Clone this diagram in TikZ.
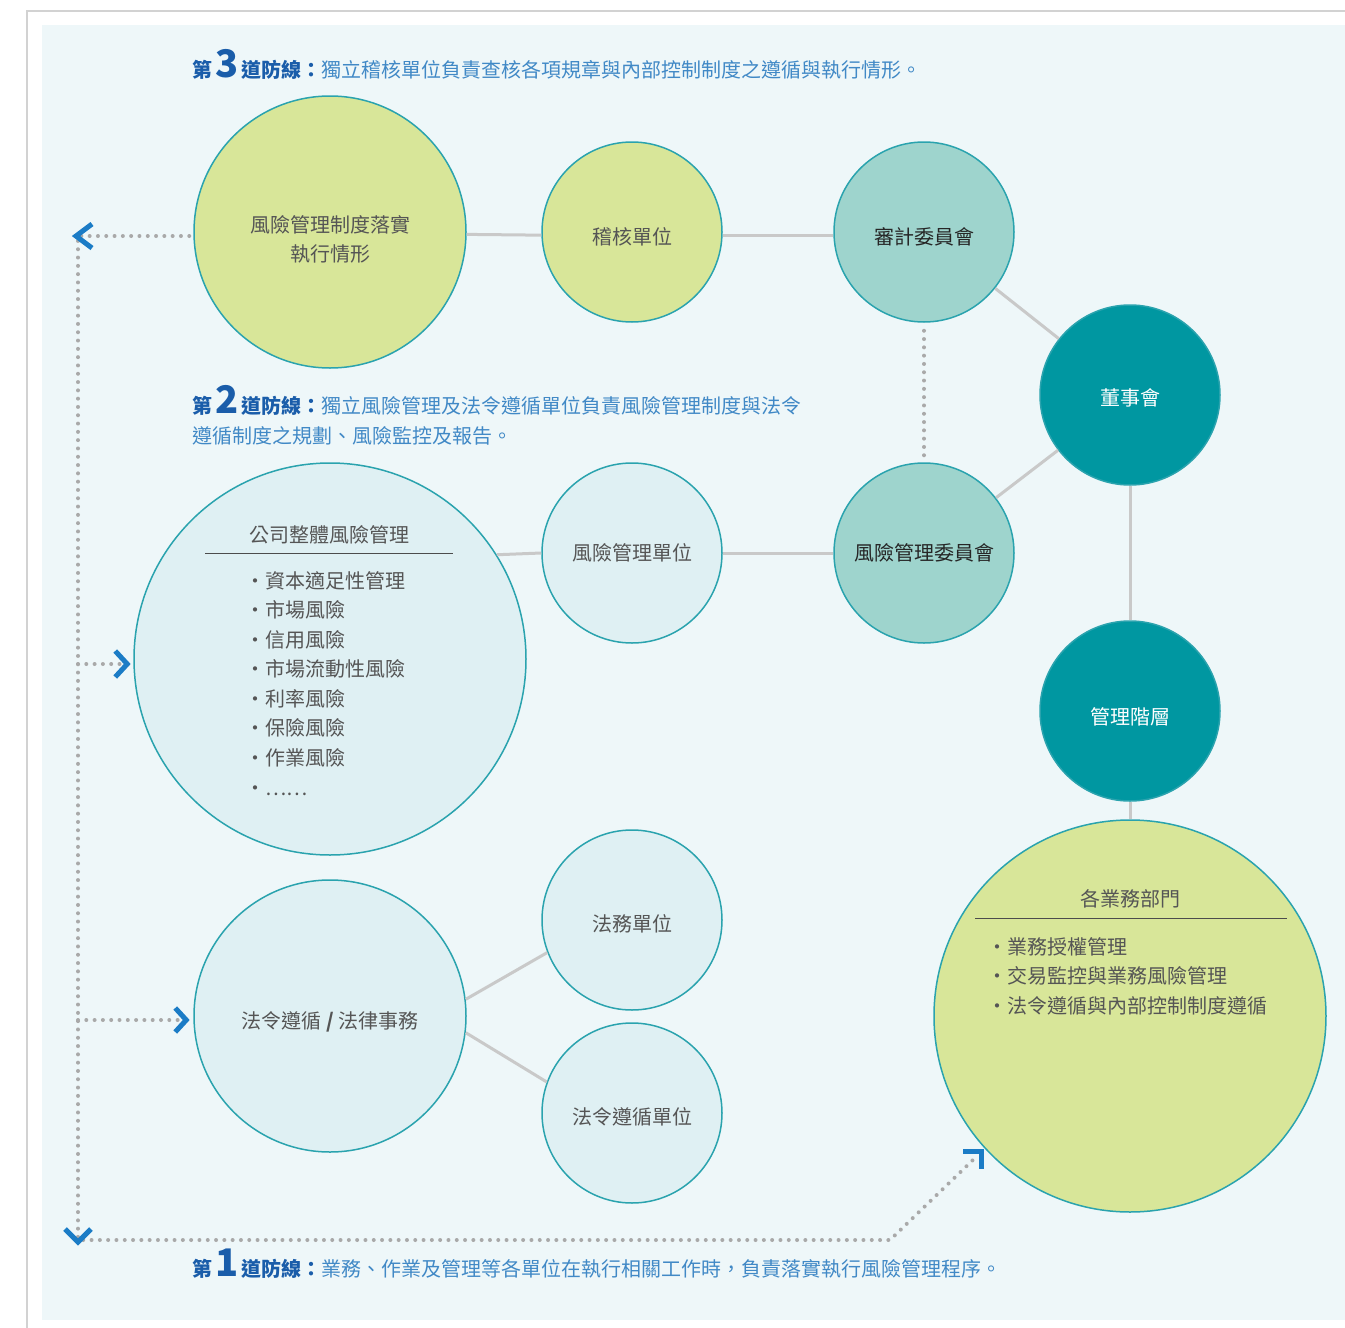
\documentclass[tikz,border=0pt]{standalone}
\usepackage{fontspec}
\setmainfont{Noto Sans CJK TC}
\usetikzlibrary{calc}
\definecolor{PanelBg}{HTML}{EEF7F9}
\definecolor{FrameGray}{HTML}{D2D2D2}
\definecolor{LimeFill}{HTML}{D8E699}
\definecolor{PaleFill}{HTML}{DFF0F3}
\definecolor{MintFill}{HTML}{9ED4CD}
\definecolor{TealFill}{HTML}{0097A1}
\definecolor{RingTeal}{HTML}{2AA3AE}
\definecolor{LinkGray}{HTML}{C9C9C9}
\definecolor{DotGray}{HTML}{A9A9A9}
\definecolor{HeadBlue}{HTML}{1A5DAA}
\definecolor{BodyBlue}{HTML}{4189C6}
\definecolor{ChevBlue}{HTML}{1B7CC6}
\definecolor{CircText}{HTML}{555555}
\tikzset{
  unit/.style={circle, draw=RingTeal, line width=1.5, inner sep=0},
  small/.style={unit, minimum size=180},
  circtext/.style={inner sep=0, align=center, text=CircText, font=\fontsize{20}{29}\selectfont},
  link/.style={draw=LinkGray, line width=3},
  dotline/.style={draw=DotGray, line width=4, line cap=round, dash pattern=on 0pt off 8.3pt},
  chev/.style={draw=ChevBlue, line width=5, line join=miter},
  heading/.style={inner sep=0, text=BodyBlue, font=\fontsize{20}{29}\selectfont},
  listtext/.style={inner sep=0, align=left, text=CircText, font=\fontsize{20}{29.5}\selectfont}
}
\newcommand{\linenum}[1]{{\fontsize{38}{38}\selectfont #1}}

\begin{document}
\begin{tikzpicture}[x=1pt, y=-1pt]
  \useasboundingbox (0,0) rectangle (1345,1328);
  % frame and panel
  \fill[PanelBg] (42,25) rectangle (1345,1320);
  \draw[FrameGray, line width=2] (27,1328) -- (27,11) -- (1345,11);

  % third line of defence
  \node[heading, anchor=base west] (head3) at (192,77)
    {\textbf{\color{HeadBlue}第\hspace{3pt}\linenum{3}\hspace{3pt}道防線：}獨立稽核單位負責查核各項規章與內部控制制度之遵循與執行情形。};
  \node[unit, fill=LimeFill, minimum size=272,
    label={[circtext, yshift=-7]center:風險管理制度落實\\執行情形}] (riskrep) at (330,232) {};
  \node[small, fill=LimeFill, label={[circtext, yshift=-5]center:稽核單位}] (audit) at (632,232) {};
  \node[small, fill=MintFill, label={[circtext, yshift=-5, text=black!85]center:審計委員會}] (auditcom) at (924,232) {};
  \node[small, fill=TealFill, label={[circtext, yshift=-3, text=white]center:董事會}] (board) at (1130,395) {};

  % second line of defence
  \node[heading, anchor=base west] (head2) at (192,413)
    {\textbf{\color{HeadBlue}第\hspace{3pt}\linenum{2}\hspace{3pt}道防線：}獨立風險管理及法令遵循單位負責風險管理制度與法令};
  \node[heading, anchor=base west] (head2b) at (192,443) {遵循制度之規劃、風險監控及報告。};
  \node[unit, fill=PaleFill, minimum size=392] (bigrisk) at (330,659) {};
  \node[circtext] (bigrisktitle) at (329,535) {公司整體風險管理};
  \draw[black!70, line width=1] (205,553) -- (453,553);
  \node[listtext, anchor=north west] (risklist) at (245,571)
    {•資本適足性管理\\•市場風險\\•信用風險\\•市場流動性風險\\•利率風險\\•保險風險\\•作業風險\\[1pt]•……};
  \node[small, fill=PaleFill, label={[circtext]center:風險管理單位}] (riskunit) at (632,553) {};
  \node[small, fill=MintFill, label={[circtext, text=black!85]center:風險管理委員會}] (riskcom) at (924,553) {};
  \node[small, fill=TealFill, label={[circtext, yshift=-6, text=white]center:管理階層}] (mgmt) at (1130,711) {};

  % legal and compliance
  \node[unit, fill=PaleFill, minimum size=272,
    label={[circtext, yshift=-6]center:法令遵循 \textbf{/} 法律事務}] (lawaff) at (330,1016) {};
  \node[small, fill=PaleFill, label={[circtext, yshift=-4]center:法務單位}] (legal) at (632,920) {};
  \node[small, fill=PaleFill, label={[circtext, yshift=-4]center:法令遵循單位}] (comply) at (632,1113) {};

  % first line of defence
  \node[unit, fill=LimeFill, minimum size=392] (bizdept) at (1130,1016) {};
  \node[circtext] (biztitle) at (1130,899) {各業務部門};
  \draw[black!70, line width=1] (975,918) -- (1287,918);
  \node[listtext, anchor=north west] (bizlist) at (987,937)
    {•業務授權管理\\•交易監控與業務風險管理\\•法令遵循與內部控制制度遵循};
  \node[heading, anchor=base west] (head1) at (192,1276)
    {\textbf{\color{HeadBlue}第\hspace{3pt}\linenum{1}\hspace{3pt}道防線：}業務、作業及管理等各單位在執行相關工作時，負責落實執行風險管理程序。};

  % connectors
  \draw[link] (riskrep.359) -- (audit.182);
  \draw[link] (audit.358) -- (auditcom.182);
  \draw[link] (auditcom) -- (board);
  \draw[link] (bigrisk.32) -- (riskunit.west);
  \draw[link] (riskunit) -- (riskcom);
  \draw[link] (riskcom) -- (board);
  \draw[link] (board) -- (mgmt);
  \draw[link] (mgmt) -- (bizdept);
  \draw[link] (lawaff.7) -- (legal.201);
  \draw[link] (lawaff.-7) -- (comply.160);
  \draw[dotline] (auditcom.south) ++(0,8) -- ($(riskcom.north)+(0,-6)$);

  % feedback loop
  \coordinate (tl) at (78,236);
  \coordinate (bl) at (78,1240);
  \coordinate (br) at (890,1240);
  \coordinate (tip) at (975,1158);
  \draw[dotline] ($(riskrep.west)+(-4,4)$) -- (tl) -- (bl) -- (br) -- (tip);
  \draw[dotline, shorten >=12pt] (tl |- bigrisk.west) ++(0,5) -- ($(bigrisk.west)+(0,5)$);
  \draw[dotline, shorten >=10pt] (tl |- lawaff.west) ++(0,4) -- ($(lawaff.west)+(0,4)$);
  \draw[chev] ($(tl)+(14,-12)$) -- ($(tl)+(-2,0)$) -- ($(tl)+(14,12)$);
  \draw[chev] ($(bigrisk.west)+(-18,-8)$) -- ($(bigrisk.west)+(-6,5)$) -- ($(bigrisk.west)+(-18,18)$);
  \draw[chev] ($(lawaff.west)+(-18,-8)$) -- ($(lawaff.west)+(-7,4)$) -- ($(lawaff.west)+(-18,16)$);
  \draw[chev] ($(bl)+(-13,-11)$) -- ($(bl)+(0,2)$) -- ($(bl)+(13,-11)$);
  \draw[chev] ($(tip)+(-12,-7)$) -- ($(tip)+(6,-7)$) -- ($(tip)+(6,11)$);
\end{tikzpicture}
\end{document}
